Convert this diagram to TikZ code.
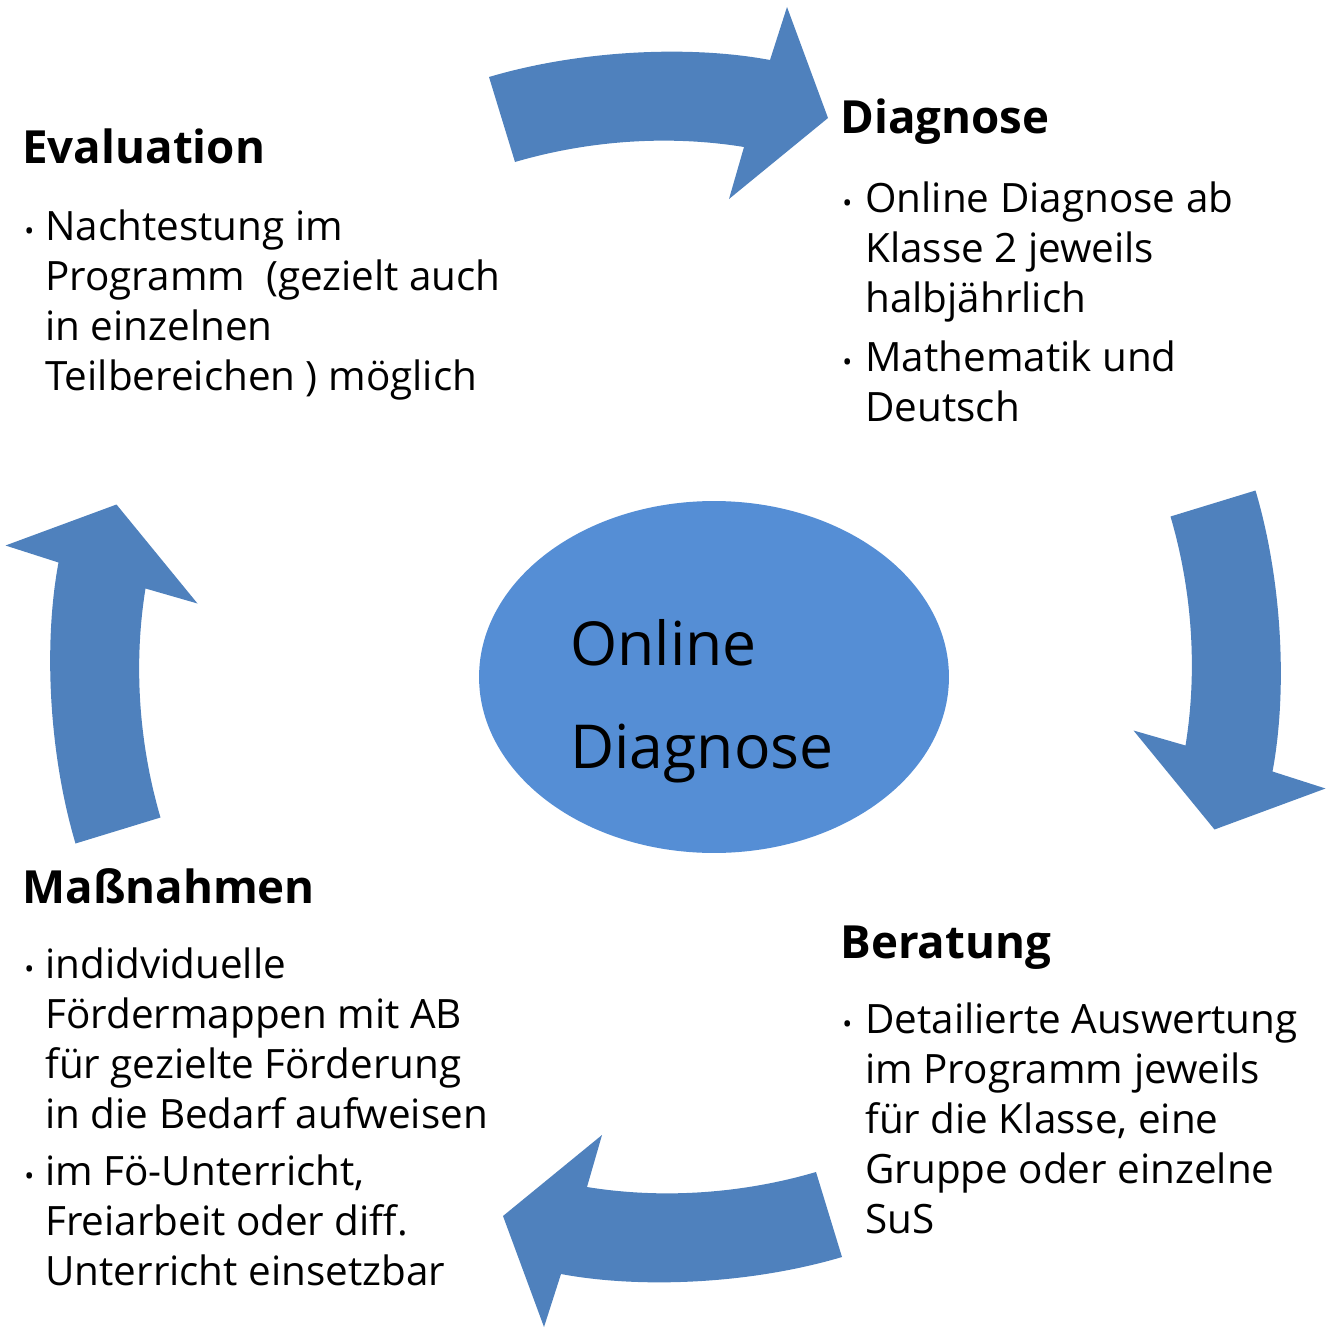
\documentclass[tikz,border=0pt]{standalone}
\usepackage{fontspec}
\setmainfont{Open Sans}
\usepackage{tikz}
\usetikzlibrary{shapes.geometric}
\definecolor{arrowblue}{HTML}{4F81BD}
\definecolor{ovalblue}{HTML}{558ED5}
\newcommand{\headfont}{\bfseries\fontsize{26}{32}\selectfont}
\newcommand{\bodyfont}{\fontsize{23}{28.45}\selectfont}
\newcommand{\corefont}{\fontsize{34.5}{58.6}\selectfont}
\newcommand{\dotfont}{\fontsize{15}{18}\selectfont}

\begin{document}
\begin{tikzpicture}[x=0.02cm,y=-0.02cm,
  head/.style={font=\headfont,anchor=base west,inner sep=0pt},
  itemtxt/.style={font=\bodyfont,anchor=base west,inner sep=0pt,align=left},
  dot/.style={font=\dotfont,anchor=base west,inner sep=0pt},
  core/.style={ellipse,fill=ovalblue,minimum width=9.4cm,minimum height=7.04cm,inner sep=0pt}]

  \useasboundingbox (0,0) rectangle (1325,1335);

  % four curved arrows, the same shape turned round the middle
  \foreach \ang in {0,-90,-180,-270}
    \fill[arrowblue,rotate around={\ang:(665.5,667)}]
      (489,77) .. controls (580,50) and (690,45) .. (770,60) -- (787,7) -- (828,118)
      -- (729,199) -- (744,147) .. controls (670,135) and (590,140) .. (515,162) -- cycle;

  % centre (text nodes sit on the baseline of their last line)
  \node[core] (core) at (714,677) {};
  \node[font=\corefont,anchor=base west,inner sep=0pt,align=left] (coretxt) at (570,768) {Online\\Diagnose};

  % top left
  \node[head] (evalhead) at (22,163) {Evaluation};
  \node[dot] (evaldot) at (24,240) {\textbullet};
  \node[itemtxt] (evaltxt) at (45,390) {Nachtestung im\\Programm~ (gezielt auch\\in einzelnen\\Teilbereichen ) möglich};

  % top right
  \node[head] (diaghead) at (840,133) {Diagnose};
  \node[dot] (diagdota) at (842,212) {\textbullet};
  \node[itemtxt] (diagtxta) at (865,312) {Online Diagnose ab\\Klasse 2 jeweils\\halbjährlich};
  \node[dot] (diagdotb) at (842,371) {\textbullet};
  \node[itemtxt] (diagtxtb) at (865,421) {Mathematik und\\Deutsch};

  % bottom right
  \node[head] (berhead) at (840,958) {Beratung};
  \node[dot] (berdot) at (842,1033) {\textbullet};
  \node[itemtxt] (bertxt) at (865,1233) {Detailierte Auswertung\\im Programm jeweils\\für die Klasse, eine\\Gruppe oder einzelne\\SuS};

  % bottom left
  \node[head] (masshead) at (22,903) {Maßnahmen};
  \node[dot] (massdota) at (24,978) {\textbullet};
  \node[itemtxt] (masstxta) at (45,1128) {indidviduelle\\Fördermappen mit AB\\für gezielte Förderung\\in die Bedarf aufweisen};
  \node[dot] (massdotb) at (24,1185) {\textbullet};
  \node[itemtxt] (masstxtb) at (45,1285) {im Fö-Unterricht,\\Freiarbeit oder diff.\\Unterricht einsetzbar};
\end{tikzpicture}
\end{document}
